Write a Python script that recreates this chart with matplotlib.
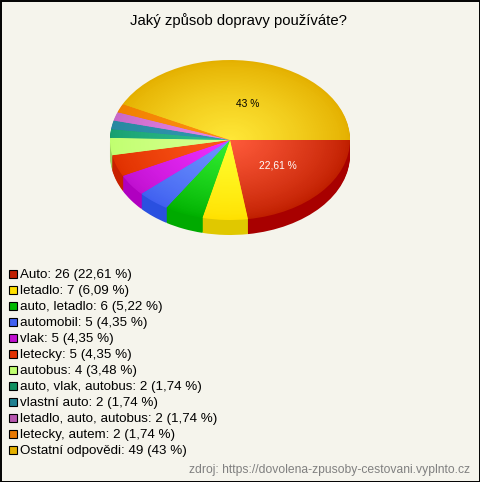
import numpy as np
import matplotlib
matplotlib.use("Agg")
import matplotlib.pyplot as plt
from matplotlib.colors import to_rgb
from matplotlib.patches import Rectangle

plt.rcParams['font.family'] = ['Liberation Sans', 'DejaVu Sans']

title = "Jaký způsob dopravy používáte?"
source = "zdroj: https://dovolena-zpusoby-cestovani.vyplnto.cz"
categories = ["Auto", "letadlo", "auto, letadlo", "automobil", "vlak", "letecky", "autobus",
              "auto, vlak, autobus", "vlastní auto", "letadlo, auto, autobus", "letecky, autem",
              "Ostatní odpovědi"]
counts = [26, 7, 6, 5, 5, 5, 4, 2, 2, 2, 2, 49]
percents = ["22,61", "6,09", "5,22", "4,35", "4,35", "4,35", "3,48", "1,74", "1,74", "1,74", "1,74", "43"]

inner = ["#ff5b3b", "#ffff30", "#33f033", "#6f96ff", "#f030ff", "#ff5a1a", "#d8ff90",
         "#30c090", "#3098b0", "#e888e8", "#ff9010", "#ffe838"]
outer = ["#c01f00", "#ffe000", "#00b000", "#4060f0", "#c010d0", "#e03000", "#c0ff70",
         "#18a070", "#2888a0", "#c868c8", "#f08000", "#e4b000"]
side = ["#a80000", "#e0c800", "#00aa00", "#2a50e0", "#b000c0", "#c82000", "#a0d060",
        "#0a7a50", "#186a78", "#a050a0", "#c86800", "#c09000"]
swatch = ["#c01f00", "#ffe000", "#00b800", "#4060f0", "#c010d0", "#e03000", "#c0ff70",
          "#109060", "#208090", "#b858b0", "#e87800", "#e4b000"]

W, H = 480, 482
bg = "#f5f4ec"

fig = plt.figure(figsize=(W / 100, H / 100), dpi=100, facecolor=bg)

# page axes in pixels, y going down
page = fig.add_axes([0, 0, 1, 1])
page.set_xlim(0, W)
page.set_ylim(H, 0)
page.axis("off")

page.text(238, 21, title, fontsize=10.75, ha="center", va="center", color="black")

y = 274
for i in range(len(categories)):
    page.add_patch(Rectangle((9, y - 4), 8, 8, facecolor=swatch[i], edgecolor="black", linewidth=0.8))
    page.text(20, y + 1, "%s: %d (%s %%)" % (categories[i], counts[i], percents[i]),
              fontsize=9.6, ha="left", va="center", color="black")
    y += 16

page.text(470, 470, source, fontsize=8.75, ha="right", va="center", color="#808080")
page.add_patch(Rectangle((0.5, 0.5), W - 1, H - 1, fill=False, edgecolor="black", linewidth=1.4))

# pie axes: unit circle squashed to 120 x 80 px
cx, cy, rx, ry, depth = 230, 140, 120, 80, 15
left, right = cx - rx - 2, cx + rx + 2
top, bottom = cy - ry - 2, cy + ry + depth + 2
ax = fig.add_axes([left / W, 1 - bottom / H, (right - left) / W, (bottom - top) / H])

# side of the pie, stacked from the lowest layer up
for d in np.arange(depth, 0, -1):
    ax.pie(counts, colors=side, startangle=0, counterclock=False, radius=1,
           center=(0, -d / ry), wedgeprops={"linewidth": 0})

# top face, radial shading with shrinking pies
steps = 60
for k in range(steps):
    r = 1 - k / steps
    t = (1 - r) ** 0.8
    cols = [tuple((1 - t) * np.array(to_rgb(o)) + t * np.array(to_rgb(n))) for o, n in zip(outer, inner)]
    ax.pie(counts, colors=cols, startangle=0, counterclock=False, radius=r,
           wedgeprops={"linewidth": 0})

ax.set_aspect("auto")
ax.set_xlim(-(rx + 2) / rx, (rx + 2) / rx)
ax.set_ylim(-(ry + depth + 2) / ry, (ry + 2) / ry)
ax.axis("off")

# percent labels of the two big slices
ax.text(0.15, 0.45, percents[11] + " %", fontsize=7.4, ha="center", va="center", color="black")
ax.text(0.40, -0.32, percents[0] + " %", fontsize=7.4, ha="center", va="center", color="white")

fig.savefig("out.png", dpi=100, facecolor=bg)
